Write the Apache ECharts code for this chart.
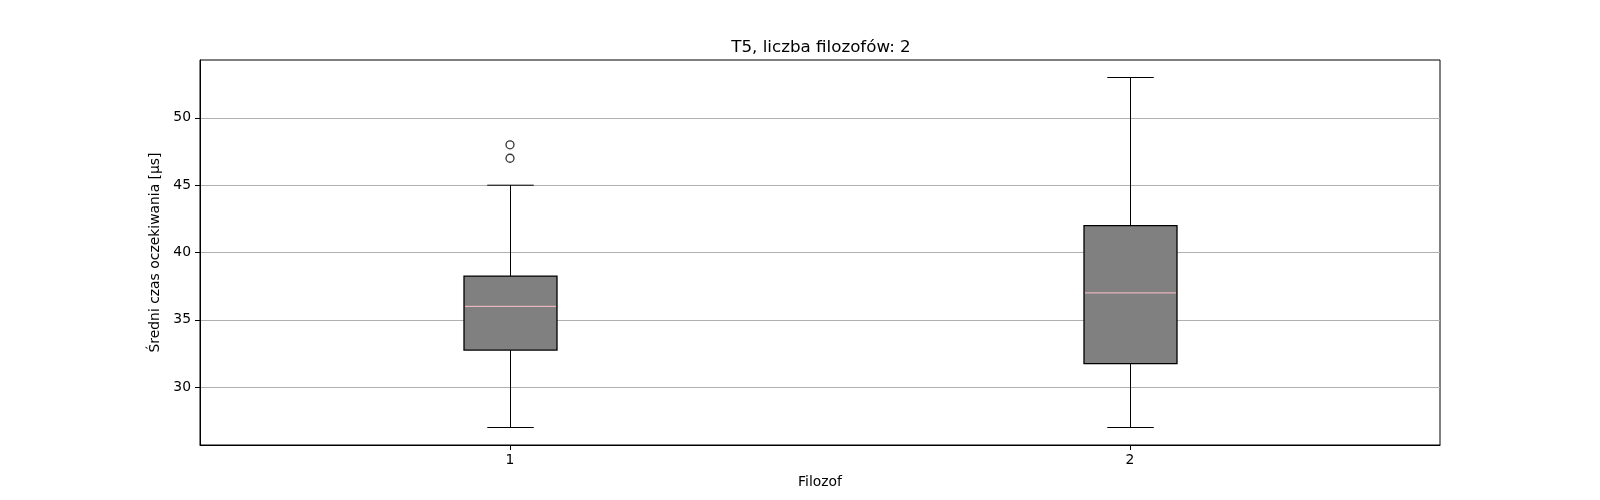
<!DOCTYPE html>
<html><head><meta charset="utf-8">
<script src="https://cdn.jsdelivr.net/npm/echarts@6/dist/echarts.min.js"></script>
<style>html,body{margin:0;padding:0;background:#fff}#c{width:1600px;height:500px}</style>
</head><body><div id="c"></div>
<script>
const categories = ['1', '2'];
// [whiskerLow, q1, median, q3, whiskerHigh]
const boxStats = [
  [27, 32.75, 36, 38.25, 45],
  [27, 31.75, 37, 42, 53]
];
const outliers = [
  [0, 47], [0, 48]
];
const yTicks = [30, 35, 40, 45, 50];

const font = 'DejaVu Sans';
const chart = echarts.init(document.getElementById('c'), null, {renderer: 'canvas'});

const customData = boxStats.map((s, i) => [i].concat(s));

chart.setOption({
  animation: false,
  backgroundColor: '#fff',
  title: {
    text: 'T5, liczba filozofów: 2',
    left: 816, top: 34, textAlign: 'center',
    textStyle: {fontFamily: font, fontSize: 16.7, fontWeight: 'normal', color: '#000'}
  },
  grid: {left: 200, right: 160, top: 60, bottom: 55, show: true, borderColor: '#000', borderWidth: 1, backgroundColor: 'transparent'},
  xAxis: {
    type: 'category', data: categories, boundaryGap: true,
    name: 'Filozof', nameLocation: 'middle', nameGap: 30,
    nameTextStyle: {fontFamily: font, fontSize: 13.9, color: '#000'},
    axisLine: {show: true, lineStyle: {color: '#000', width: 1}},
    axisTick: {show: true, alignWithLabel: true, length: 5, inside: false, lineStyle: {color: '#000'}},
    axisLabel: {fontFamily: font, fontSize: 13.9, color: '#000', margin: 8},
    splitLine: {show: false}
  },
  yAxis: {
    type: 'value', min: 25.7, max: 54.3,
    name: 'Średni czas oczekiwania [µs]', nameLocation: 'middle', nameGap: 34,
    nameTextStyle: {fontFamily: font, fontSize: 13.9, color: '#000'},
    axisLine: {show: true, lineStyle: {color: '#000', width: 1}},
    axisTick: {show: true, length: 5, customValues: yTicks, lineStyle: {color: '#000'}},
    axisLabel: {fontFamily: font, fontSize: 13.9, color: '#000', margin: 9, customValues: yTicks},
    splitLine: {show: true, lineStyle: {color: '#b0b0b0', width: 1}}
  },
  series: [
    {
      type: 'custom',
      data: customData,
      encode: {x: 0, y: [1, 2, 3, 4, 5]},
      z: 3,
      renderItem: function (params, api) {
        const xi = api.value(0);
        const band = api.size([1, 0])[0];
        const bw = band * 0.15;
        const cw = bw / 2;
        const pLow = api.coord([xi, api.value(1)]);
        const pQ1 = api.coord([xi, api.value(2)]);
        const pMed = api.coord([xi, api.value(3)]);
        const pQ3 = api.coord([xi, api.value(4)]);
        const pHigh = api.coord([xi, api.value(5)]);
        const cx = Math.round(pLow[0]) + 0.5;
        const ls = {stroke: '#000', lineWidth: 1};
        return {
          type: 'group',
          children: [
            {type: 'line', shape: {x1: cx, y1: pLow[1], x2: cx, y2: pQ1[1]}, style: ls},
            {type: 'line', shape: {x1: cx, y1: pQ3[1], x2: cx, y2: pHigh[1]}, style: ls},
            {type: 'line', shape: {x1: cx - cw / 2, y1: pLow[1], x2: cx + cw / 2, y2: pLow[1]}, style: ls},
            {type: 'line', shape: {x1: cx - cw / 2, y1: pHigh[1], x2: cx + cw / 2, y2: pHigh[1]}, style: ls},
            {type: 'rect', shape: {x: cx - bw / 2, y: pQ3[1], width: bw, height: pQ1[1] - pQ3[1]}, style: {fill: '#808080', stroke: '#000', lineWidth: 1.3}},
            {type: 'line', shape: {x1: cx - bw / 2 + 1, y1: pMed[1], x2: cx + bw / 2 - 1, y2: pMed[1]}, style: {stroke: '#ffc0cb', lineWidth: 1}}
          ]
        };
      }
    },
    {
      type: 'scatter',
      data: outliers,
      symbol: 'circle', symbolSize: 8,
      itemStyle: {color: 'transparent', borderColor: '#000', borderWidth: 1.3},
      z: 4
    }
  ]
});
</script>
</body></html>
